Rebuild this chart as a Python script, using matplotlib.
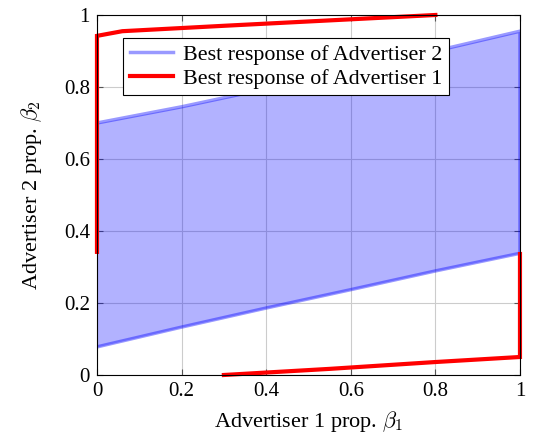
import matplotlib
matplotlib.use("Agg")
from matplotlib import pyplot as plt
import numpy as np

# best response of advertiser 2 (lower and upper envelope)
beta1_grid = [0.0, 0.2, 0.4, 0.6, 0.8, 1.0]
br2_lower = [0.078, 0.133, 0.186, 0.237, 0.289, 0.338]
br2_upper = [0.700, 0.745, 0.795, 0.848, 0.900, 0.955]

# best response of advertiser 1 (two branches)
br1_top_x = [0.0, 0.0, 0.06, 0.3, 0.55, 0.8]
br1_top_y = [0.342, 0.942, 0.955, 0.970, 0.985, 1.0]
br1_bot_x = [0.3, 0.55, 0.8, 1.0, 1.0]
br1_bot_y = [0.0, 0.017, 0.036, 0.05, 0.336]

plt.rcParams["font.family"] = ["Liberation Serif", "DejaVu Serif"]
plt.rcParams["mathtext.fontset"] = "cm"

fig = plt.figure(figsize=(5.37, 4.37), dpi=100)
ax = fig.add_axes([0.1806, 0.1419, 0.7877, 0.8238])

ax.fill_between(beta1_grid, br2_lower, br2_upper, color="blue", alpha=0.3, lw=0)
# outline: lower curve, vertical at beta1 = 1, upper curve
bx = beta1_grid + [1.0] + beta1_grid[::-1]
by = br2_lower + [br2_upper[-1]] + br2_upper[::-1]
ax.plot(bx, by, color="blue", alpha=0.4, lw=2.5, label="Best response of Advertiser 2")

ax.plot(br1_top_x, br1_top_y, color="red", lw=3.0, label="Best response of Advertiser 1",
        solid_joinstyle="miter", clip_on=False)
ax.plot(br1_bot_x, br1_bot_y, color="red", lw=3.0, solid_joinstyle="miter", clip_on=False)

ax.set_xlim(0, 1)
ax.set_ylim(0, 1)
ticks = [0, 0.2, 0.4, 0.6, 0.8, 1]
labels = ["0", "0.2", "0.4", "0.6", "0.8", "1"]
ax.set_xticks(ticks, labels)
ax.set_yticks(ticks, labels)
ax.tick_params(direction="in", top=True, right=True, labelsize=15, length=4,
               color="#555555", pad=5)
ax.grid(True, color="#cccccc", lw=0.8)
ax.set_axisbelow(True)
for s in ax.spines.values():
    s.set_linewidth(0.8)

ax.set_xlabel(r"Advertiser 1 prop. $\beta_1$", fontsize=16, labelpad=6)
ax.set_ylabel(r"Advertiser 2 prop. $\beta_2$", fontsize=16, labelpad=14)

leg = ax.legend(loc="upper left", bbox_to_anchor=(0.0615, 0.936), fontsize=15.8,
                fancybox=False, edgecolor="black", framealpha=1,
                handlelength=2.0, handletextpad=0.45, borderpad=0.3, labelspacing=0.15,
                borderaxespad=0)
leg.get_frame().set_linewidth(0.8)

fig.savefig("out.png", dpi=100)
